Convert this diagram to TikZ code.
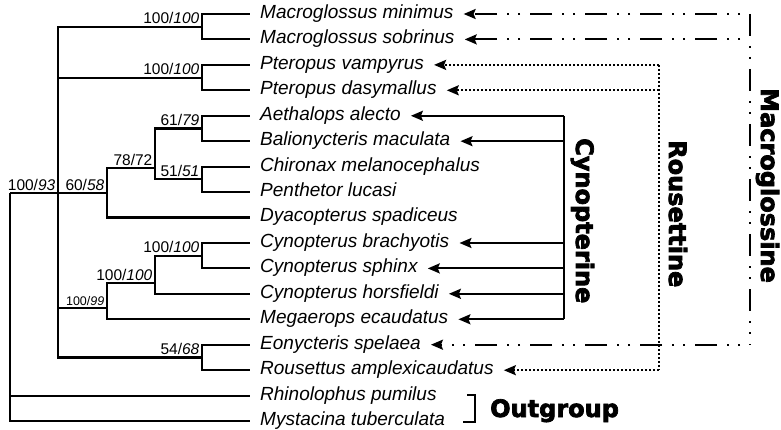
\documentclass[tikz,border=0pt]{standalone}
\usepackage{fontspec}
\setmainfont{Liberation Sans}
\newfontfamily\cladefont{DejaVu Sans}[BoldFeatures={FakeBold=3}]
\usetikzlibrary{arrows.meta}

\begin{document}
\begin{tikzpicture}[x=1pt,y=-1pt,
  leaf/.style={anchor=west, inner xsep=10pt, inner ysep=0pt, text height=13pt, text depth=4pt, font=\fontsize{19}{21}\selectfont\itshape},
  supp/.style={anchor=south east, inner sep=2.5pt, font=\fontsize{15.5}{17}\selectfont},
  branch/.style={line width=2.1pt},
  tip/.style={-{Stealth[length=12pt,width=10pt,inset=2pt]}},
  cynline/.style={branch},
  rouline/.style={line width=2pt, dash pattern=on 2pt off 2pt},
  macline/.style={line width=2.1pt, dash pattern=on 2pt off 9pt on 2pt off 10pt on 22pt off 10pt, dash phase=45pt},
  clade/.style={inner sep=0pt, font=\cladefont\bfseries\fontsize{24}{26}\selectfont}]
\useasboundingbox (0,0) rectangle (781,430);

\node[leaf] (mmin) at (250,14) {Macroglossus minimus};
\node[leaf] (msob) at (250,39.4) {Macroglossus sobrinus};
\node[leaf] (pvam) at (250,64.9) {Pteropus vampyrus};
\node[leaf] (pdas) at (250,90.3) {Pteropus dasymallus};
\node[leaf] (aale) at (250,115.8) {Aethalops alecto};
\node[leaf] (bmac) at (250,141.2) {Balionycteris maculata};
\node[leaf] (cmel) at (250,166.6) {Chironax melanocephalus};
\node[leaf] (pluc) at (250,192.1) {Penthetor lucasi};
\node[leaf] (dspa) at (250,217.5) {Dyacopterus spadiceus};
\node[leaf] (cbra) at (250,243.0) {Cynopterus brachyotis};
\node[leaf] (csph) at (250,268.4) {Cynopterus sphinx};
\node[leaf] (chor) at (250,293.8) {Cynopterus horsfieldi};
\node[leaf] (mecu) at (250,319.3) {Megaerops ecaudatus};
\node[leaf] (espe) at (250,344.7) {Eonycteris spelaea};
\node[leaf] (ramp) at (250,370.2) {Rousettus amplexicaudatus};
\node[leaf] (rpum) at (250,395.6) {Rhinolophus pumilus};
\node[leaf] (mtub) at (250,421.0) {Mystacina tuberculata};

\coordinate (root) at (10,193);
\coordinate (ingr) at (58,193);
\coordinate (mac) at (202,26.7);
\coordinate (pte) at (202,77.6);
\coordinate (cyn) at (107,193);
\coordinate (c78) at (155,168);
\coordinate (aet) at (202,128.5);
\coordinate (chi) at (202,179.3);
\coordinate (c99) at (107,308);
\coordinate (cpb) at (155,283);
\coordinate (cbs) at (202,255.7);
\coordinate (eon) at (202,357.5);

\draw[branch] (root) -- (ingr) -- (cyn);
\draw[branch] (root) |- (rpum.west);
\draw[branch] (root) |- (mtub.west);
\draw[branch] (ingr) |- (mac);
\draw[branch] (ingr) |- (pte);
\draw[branch] (ingr) |- (c99);
\draw[branch] (ingr) |- (eon);
\draw[branch] (mac) |- (mmin.west);
\draw[branch] (mac) |- (msob.west);
\draw[branch] (pte) |- (pvam.west);
\draw[branch] (pte) |- (pdas.west);
\draw[branch] (cyn) |- (c78);
\draw[branch] (cyn) |- (dspa.west);
\draw[branch] (c78) |- (aet);
\draw[branch] (c78) |- (chi);
\draw[branch] (aet) |- (aale.west);
\draw[branch] (aet) |- (bmac.west);
\draw[branch] (chi) |- (cmel.west);
\draw[branch] (chi) |- (pluc.west);
\draw[branch] (c99) |- (cpb);
\draw[branch] (c99) |- (mecu.west);
\draw[branch] (cpb) |- (cbs);
\draw[branch] (cpb) |- (chor.west);
\draw[branch] (cbs) |- (cbra.west);
\draw[branch] (cbs) |- (csph.west);
\draw[branch] (eon) |- (espe.west);
\draw[branch] (eon) |- (ramp.west);

\node[supp] (smac) at (mac) {100/\textit{100}};
\node[supp] (spte) at (pte) {100/\textit{100}};
\node[supp] (saet) at (aet) {61/\textit{79}};
\node[supp] (schi) at (chi) {51/\textit{51}};
\node[supp] (sc78) at (c78) {78/72};
\node[supp] (singr) at (ingr) {100/\textit{93}};
\node[supp] (scyn) at (cyn) {60/\textit{58}};
\node[supp] (scbs) at (cbs) {100/\textit{100}};
\node[supp] (scpb) at (cpb) {100/\textit{100}};
\node[supp, font=\fontsize{12.5}{14}\selectfont] (sc99) at (c99) {100/\textit{99}};
\node[supp] (seon) at (eon) {54/\textit{68}};

\coordinate (cynbar) at (564,0);
\coordinate (roubar) at (659,0);
\coordinate (macbar) at (750,0);

\draw[cynline] (cynbar |- aale.east) -- (cynbar |- mecu.east);
\draw[cynline, tip] (cynbar |- aale.east) -- (aale.east);
\draw[cynline, tip] (cynbar |- bmac.east) -- (bmac.east);
\draw[cynline, tip] (cynbar |- cbra.east) -- (cbra.east);
\draw[cynline, tip] (cynbar |- csph.east) -- (csph.east);
\draw[cynline, tip] (cynbar |- chor.east) -- (chor.east);
\draw[cynline, tip] (cynbar |- mecu.east) -- (mecu.east);

\draw[rouline] (roubar |- pvam.east) -- (roubar |- ramp.east);
\draw[rouline, tip] (roubar |- pvam.east) -- (pvam.east);
\draw[rouline, tip] (roubar |- pdas.east) -- (pdas.east);
\draw[rouline, tip] (roubar |- ramp.east) -- (ramp.east);

\draw[macline, dash phase=23pt] (macbar |- mmin.east) -- (macbar |- espe.east);
\draw[macline, tip] (macbar |- mmin.east) -- (mmin.east);
\draw[macline, tip] (macbar |- msob.east) -- (msob.east);
\draw[macline, tip] (macbar |- espe.east) -- (espe.east);

\node[clade, rotate=-90, anchor=base west] (cynlab) at (576,138) {Cynopterine};
\node[clade, rotate=-90, anchor=base west] (roulab) at (669,140) {Rousettine};
\node[clade, rotate=-90, anchor=base west] (maclab) at (761,88) {Macroglossine};

\coordinate (ogtop) at (467,395);
\coordinate (ogbot) at (463,422);
\draw[branch] (ogtop) -- ++(8,0) |- (ogbot);
\node[clade, anchor=base west] (outlab) at (490,417) {Outgroup};
\end{tikzpicture}
\end{document}
